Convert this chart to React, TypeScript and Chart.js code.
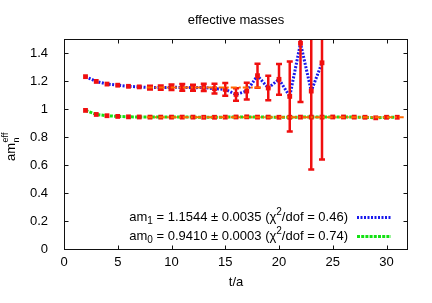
import React, { useEffect, useRef } from "react";
import { Chart, registerables } from "chart.js";

Chart.register(...registerables);

const FONT = "'Liberation Sans', Arial, Helvetica, sans-serif";

const titleText = "effective masses";
const xLabelText = "t/a";

// excited state (am1) effective mass
const tUpper = [2, 3, 4, 5, 6, 7, 8, 9, 10, 11, 12, 13, 14, 15, 16, 17, 18, 19, 20, 21, 22, 23, 24];
const mUpper = [1.231, 1.197, 1.178, 1.170, 1.162, 1.158, 1.153, 1.153, 1.155, 1.154, 1.152, 1.154, 1.145, 1.140, 1.104, 1.128, 1.238, 1.150, 1.212, 1.090, 1.47, 1.128, 1.33];
const eUpper = [0.003, 0.004, 0.005, 0.006, 0.008, 0.010, 0.013, 0.015, 0.020, 0.024, 0.022, 0.026, 0.035, 0.045, 0.045, 0.060, 0.086, 0.087, 0.110, 0.250, 0.420, 0.560, 0.690];

// ground state (am0) effective mass
const tLower = [2, 3, 4, 5, 6, 7, 8, 9, 10, 11, 12, 13, 14, 15, 16, 17, 18, 19, 20, 21, 22, 23, 24, 25, 26, 27, 28, 29, 30, 31];
const mLower = [0.990, 0.961, 0.952, 0.947, 0.944, 0.943, 0.942, 0.942, 0.942, 0.942, 0.942, 0.941, 0.941, 0.942, 0.943, 0.944, 0.942, 0.942, 0.941, 0.941, 0.942, 0.942, 0.942, 0.943, 0.943, 0.942, 0.941, 0.937, 0.941, 0.941];
const eLower = [0.003, 0.002, 0.002, 0.002, 0.002, 0.002, 0.002, 0.002, 0.002, 0.002, 0.002, 0.002, 0.002, 0.002, 0.002, 0.003, 0.002, 0.002, 0.002, 0.002, 0.002, 0.002, 0.002, 0.002, 0.002, 0.002, 0.002, 0.003, 0.002, 0.002];

// fit plateaus
const fitUpperT = [7.7, 18.5];
const fitUpperM = [1.1544, 1.1544];
const fitLowerT = [7.7, 31.6];
const fitLowerM = [0.941, 0.941];

// axis ticks
const xTickValues = [0, 5, 10, 15, 20, 25, 30];
const yTickValues = [0, 0.2, 0.4, 0.6, 0.8, 1, 1.2, 1.4];

// legend entries
const legendNames = ["am", "am"];
const legendSubs = ["1", "0"];
const legendValues = [" = 1.1544 ± 0.0035 (", " = 0.9410 ± 0.0003 ("];
const legendChi = ["/dof = 0.46)", "/dof = 0.74)"];

const BLUE = "rgb(25,25,235)";
const GREEN = "rgb(20,225,20)";
const RED = "rgb(240,15,15)";
const ORANGE = "rgb(255,105,0)";

const pts = (xs: number[], ys: number[]) => xs.map((x, i) => ({ x, y: ys[i] }));

type Part = { t: string; s: number; dy: number };

function drawParts(ctx: CanvasRenderingContext2D, parts: Part[], x: number, y: number, align: "left" | "right" | "center") {
  let total = 0;
  const widths: number[] = [];
  parts.forEach((p) => {
    ctx.font = `${p.s}px ${FONT}`;
    const w = ctx.measureText(p.t).width;
    widths.push(w);
    total += w;
  });
  let cx = align === "right" ? x - total : align === "center" ? x - total / 2 : x;
  parts.forEach((p, i) => {
    ctx.font = `${p.s}px ${FONT}`;
    ctx.fillText(p.t, cx, y + p.dy);
    cx += widths[i];
  });
  return total;
}

const errorBarPlugin = {
  id: "errbars",
  afterDatasetDraw(chart: any, args: any) {
    const ds = chart.data.datasets[args.index] as any;
    if (!ds.errors) return;
    const { ctx, chartArea } = chart;
    const xs = chart.scales.x;
    const ys = chart.scales.y;
    ctx.save();
    ctx.beginPath();
    ctx.rect(chartArea.left, chartArea.top, chartArea.right - chartArea.left, chartArea.bottom - chartArea.top);
    ctx.clip();
    ctx.strokeStyle = RED;
    ctx.lineWidth = 2.5;
    ds.data.forEach((p: any, i: number) => {
      const e = ds.errors[i];
      const px = xs.getPixelForValue(p.x);
      const y1 = ys.getPixelForValue(p.y - e);
      const y2 = ys.getPixelForValue(p.y + e);
      if (Math.abs(y1 - y2) < 3) return;
      ctx.beginPath();
      ctx.moveTo(px, y1);
      ctx.lineTo(px, y2);
      ctx.moveTo(px - 3, y1);
      ctx.lineTo(px + 3, y1);
      ctx.moveTo(px - 3, y2);
      ctx.lineTo(px + 3, y2);
      ctx.stroke();
    });
    ctx.restore();
  },
};

const decorPlugin = {
  id: "decor",
  afterDraw(chart: any) {
    const { ctx, chartArea } = chart;
    const xs = chart.scales.x;
    const ys = chart.scales.y;
    const L = chartArea.left + 0.5;
    const R = chartArea.right - 0.5;
    const T = chartArea.top + 0.5;
    const B = chartArea.bottom + 0.5;
    ctx.save();
    ctx.strokeStyle = "#111";
    ctx.lineWidth = 1;
    ctx.strokeRect(L, T, R - L, B - T);
    const tl = 4;
    ctx.beginPath();
    xTickValues.forEach((v) => {
      const px = Math.round(xs.getPixelForValue(v)) + 0.5;
      ctx.moveTo(px, B);
      ctx.lineTo(px, B - tl);
      ctx.moveTo(px, T);
      ctx.lineTo(px, T + tl);
    });
    yTickValues.forEach((v) => {
      const py = Math.round(ys.getPixelForValue(v)) + 0.5;
      ctx.moveTo(L, py);
      ctx.lineTo(L + tl, py);
      ctx.moveTo(R, py);
      ctx.lineTo(R - tl, py);
    });
    ctx.stroke();

    ctx.fillStyle = "#000";
    ctx.textBaseline = "middle";
    ctx.textAlign = "center";
    ctx.font = `13px ${FONT}`;
    ctx.fillText(titleText, (chartArea.left + chartArea.right) / 2, 20);
    ctx.fillText(xLabelText, (chartArea.left + chartArea.right) / 2, 282);

    // y label am_n^eff (rotated)
    ctx.save();
    ctx.translate(15, 161);
    ctx.rotate(-Math.PI / 2);
    ctx.textBaseline = "alphabetic";
    ctx.textAlign = "left";
    ctx.font = `13px ${FONT}`;
    ctx.fillText("am", 0, 0);
    const wAm = ctx.measureText("am").width;
    ctx.font = `9px ${FONT}`;
    ctx.fillText("n", wAm + 0.5, 4);
    ctx.fillText("eff", wAm + 0.5, -7);
    ctx.restore();

    // legend
    ctx.textBaseline = "alphabetic";
    ctx.textAlign = "left";
    const rows = [221, 240];
    const colors = [BLUE, GREEN];
    const dashes = [[2, 1.5], [3, 1.2]];
    rows.forEach((by, i) => {
      ctx.fillStyle = "#000";
      drawParts(
        ctx,
        [
          { t: legendNames[i], s: 13, dy: 0 },
          { t: legendSubs[i], s: 10, dy: 3 },
          { t: legendValues[i], s: 13, dy: 0 },
          { t: "χ", s: 13, dy: 0 },
          { t: "2", s: 10, dy: -6 },
          { t: legendChi[i], s: 13, dy: 0 },
        ],
        348,
        by,
        "right"
      );
      ctx.save();
      ctx.strokeStyle = colors[i];
      ctx.lineWidth = 3;
      ctx.setLineDash(dashes[i]);
      ctx.beginPath();
      ctx.moveTo(357, by - 3.5);
      ctx.lineTo(391, by - 3.5);
      ctx.stroke();
      ctx.restore();
    });
    ctx.restore();
  },
};

export default function App() {
  const ref = useRef<HTMLCanvasElement | null>(null);

  useEffect(() => {
    if (!ref.current) return;
    Chart.defaults.font.family = FONT;
    const chart = new Chart(ref.current, {
      type: "scatter",
      data: {
        datasets: [
          {
            label: "fit am1",
            data: pts(fitUpperT, fitUpperM),
            showLine: true,
            borderColor: ORANGE,
            borderWidth: 2,
            borderDash: [6, 2, 2, 2],
            pointRadius: 0,
            order: 0,
          },
          {
            label: "fit am0",
            data: pts(fitLowerT, fitLowerM),
            showLine: true,
            borderColor: ORANGE,
            borderWidth: 2,
            borderDash: [6, 2, 2, 2],
            pointRadius: 0,
            order: 0,
          },
          {
            label: "am1 points",
            data: pts(tUpper, mUpper),
            errors: eUpper,
            showLine: false,
            pointStyle: "rect",
            pointRadius: 3.4,
            backgroundColor: RED,
            borderColor: RED,
            borderWidth: 0,
            order: 1,
          } as any,
          {
            label: "am0 points",
            data: pts(tLower, mLower),
            errors: eLower,
            showLine: false,
            pointStyle: "rect",
            pointRadius: 3.4,
            backgroundColor: RED,
            borderColor: RED,
            borderWidth: 0,
            order: 1,
          } as any,
          {
            label: "am0 curve",
            data: pts(tLower, mLower),
            showLine: true,
            borderColor: GREEN,
            borderWidth: 3,
            borderDash: [3, 1.2],
            pointRadius: 0,
            order: 2,
          },
          {
            label: "am1 curve",
            data: pts(tUpper, mUpper),
            showLine: true,
            borderColor: BLUE,
            borderWidth: 3,
            borderDash: [2, 1.5],
            pointRadius: 0,
            order: 3,
          },
        ],
      },
      options: {
        animation: false,
        responsive: false,
        devicePixelRatio: 1,
        layout: { padding: { top: 39, right: 24, bottom: 0, left: 0 } },
        plugins: {
          legend: { display: false },
          title: { display: false },
          tooltip: { enabled: false },
        },
        scales: {
          x: {
            type: "linear",
            min: 0,
            max: 32,
            grid: { display: false },
            border: { display: false },
            ticks: {
              stepSize: 5,
              includeBounds: false,
              color: "#000",
              padding: -2,
              font: { size: 13, family: FONT },
            },
            afterFit: (s: any) => {
              s.height = 54;
            },
          },
          y: {
            type: "linear",
            min: 0,
            max: 1.5,
            grid: { display: false },
            border: { display: false },
            ticks: {
              stepSize: 0.2,
              includeBounds: false,
              color: "#000",
              padding: 8,
              font: { size: 13, family: FONT },
              callback: (v: any) => String(Math.round(Number(v) * 10) / 10),
            },
            afterFit: (s: any) => {
              s.width = 64;
            },
          },
        },
      },
      plugins: [errorBarPlugin, decorPlugin],
    } as any);
    return () => chart.destroy();
  }, []);

  return (
    <div style={{ position: "absolute", left: 0, top: 0, width: 432, height: 303, background: "#fff" }}>
      <canvas ref={ref} width={432} height={303} style={{ display: "block" }} />
    </div>
  );
}
